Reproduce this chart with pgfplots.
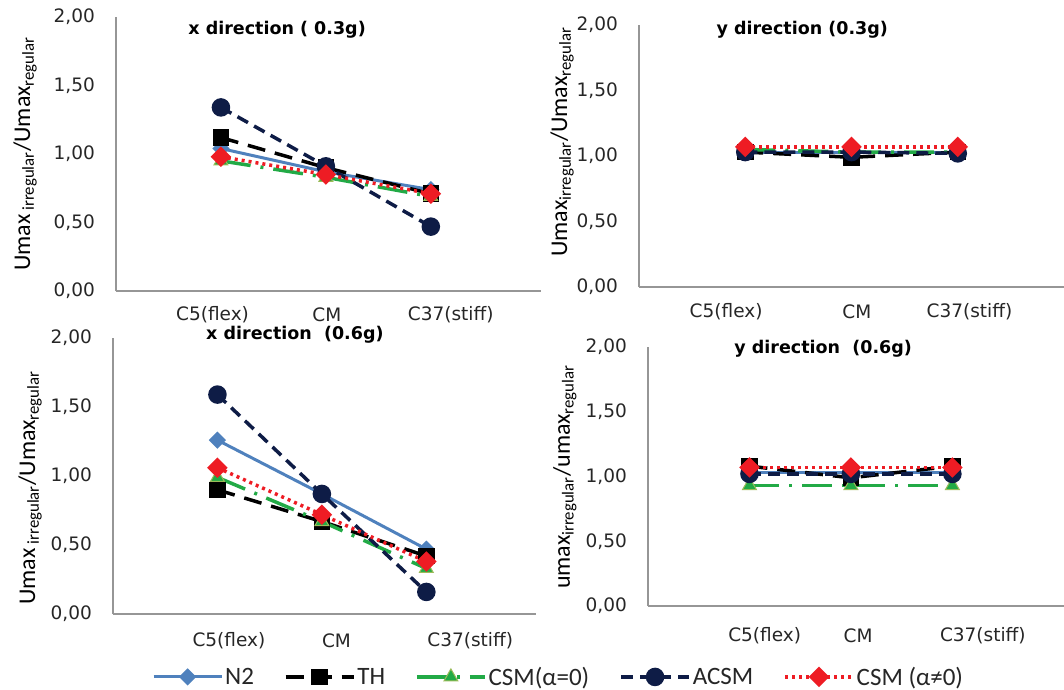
\documentclass[border=0pt]{standalone}
\usepackage{fontspec}
\setmainfont{DejaVu Sans}
\newfontfamily\calib{Carlito}
\usepackage{pgfplots}
\pgfplotsset{compat=1.18}
\definecolor{cN2}{RGB}{79,129,189}
\definecolor{cG}{RGB}{34,170,70}
\definecolor{cGl}{RGB}{155,187,89}
\definecolor{cNavy}{RGB}{14,28,70}
\definecolor{cRed}{RGB}{238,28,36}
\definecolor{axgray}{RGB}{150,150,150}
\pgfplotsset{
  panel/.style={
    scale only axis, anchor=south west, clip=false,
    xmin=0, ymin=0, ymax=2,
    axis x line*=bottom, axis y line*=left,
    axis line style={draw=axgray, line width=1.3bp},
    tick style={draw=none}, major tick length=0pt,
    ytick={0,0.5,1,1.5,2},
    yticklabels={{0,00},{0,50},{1,00},{1,50},{2,00}},
    ticklabel style={font=\fontsize{18.5bp}{21bp}\selectfont, text=black!85},
    yticklabel style={anchor=east, inner sep=0pt, xshift=-21bp},
    title style={font=\fontsize{17.5bp}{20bp}\selectfont\bfseries, anchor=center},
    ylabel style={font=\calib\fontsize{24bp}{26bp}\selectfont, anchor=center},
  },
  n2/.style={color=cN2, line width=3bp, solid, mark=square*, mark size=4.6bp, mark options={rotate=45, solid, fill=cN2}},
  th/.style={color=black, line width=3.5bp, dash pattern=on 18bp off 10bp, mark=square*, mark size=6.5bp, mark options={solid, fill=black}},
  csmz/.style={color=cG, line width=3.5bp, dash pattern=on 30bp off 10bp on 3bp off 10bp, mark=triangle*, mark size=8bp, mark options={solid, fill=cG, draw=cGl, line width=1bp}},
  acsm/.style={color=cNavy, line width=3.5bp, dash pattern=on 12bp off 7bp, mark=*, mark size=7.5bp, mark options={solid, fill=cNavy}},
  csma/.style={color=cRed, line width=3.5bp, dash pattern=on 3bp off 4bp, mark=square*, mark size=5.5bp, mark options={rotate=45, solid, fill=cRed}},
}
\begin{document}
\begin{tikzpicture}
\useasboundingbox (0,0) rectangle (1064bp,-690bp);
% Panel 1: x direction 0.3g
\begin{axis}[panel, at={(116bp,-291bp)}, width=425bp, height=274bp, xmax=4.05,
  xtick={0.92,2.01,3.19}, xticklabels={C5(flex),CM,C37(stiff)},
  xticklabel style={anchor=center, inner sep=0pt, yshift=-24bp},
  title={x direction ( 0.3g)}, title style={at={(axis description cs:0.379,0.931)}},
  ylabel={Umax\,\textsubscript{irregular}/Umax\textsubscript{regular}},
  ylabel style={at={(axis description cs:-0.214,0.5)}}]
\addplot[n2] coordinates {(1,1.04) (2,0.87) (3,0.74)};
\addplot[th] coordinates {(1,1.12) (2,0.90) (3,0.71)};
\addplot[csmz] coordinates {(1,0.95) (2,0.83) (3,0.69)};
\addplot[acsm] coordinates {(1,1.34) (2,0.91) (3,0.47)};
\addplot[csma] coordinates {(1,0.98) (2,0.85) (3,0.71)};
\end{axis}
% Panel 2: y direction 0.3g
\begin{axis}[panel, at={(639bp,-287bp)}, width=425bp, height=262bp, xmax=4.0,
  xtick={0.82,2.05,3.11}, xticklabels={C5(flex),CM,C37(stiff)},
  xticklabel style={anchor=center, inner sep=0pt, yshift=-25bp},
  title={y direction (0.3g)}, title style={at={(axis description cs:0.384,0.958)}},
  ylabel={Umax\textsubscript{irregular}/Umax\textsubscript{regular}},
  ylabel style={at={(axis description cs:-0.181,0.553)}}]
\addplot[n2] coordinates {(1,1.03) (2,1.03) (3,1.03)};
\addplot[th] coordinates {(1,1.03) (2,0.99) (3,1.03)};
\addplot[csmz] coordinates {(1,1.05) (2,1.03) (3,1.03)};
\addplot[acsm] coordinates {(1,1.03) (2,1.03) (3,1.02)};
\addplot[csma] coordinates {(1,1.07) (2,1.07) (3,1.07)};
\end{axis}
% Panel 3: x direction 0.6g
\begin{axis}[panel, at={(113bp,-614bp)}, width=423bp, height=276bp, xmax=4.05,
  xtick={1.11,2.14,3.42}, xticklabels={C5(flex),CM,C37(stiff)},
  xticklabel style={anchor=center, inner sep=0pt, yshift=-27bp},
  title={x direction \ (0.6g)}, title style={at={(axis description cs:0.430,0.989)}},
  ylabel={Umax\,\textsubscript{irregular}/Umax\textsubscript{regular}},
  ylabel style={at={(axis description cs:-0.196,0.457)}},
  legend columns=5,
  legend style={at={(axis description cs:0.092,-0.228)}, anchor=west, draw=none, inner sep=0pt,
    font=\calib\fontsize{25bp}{26bp}\selectfont, text=black!85,
    /tikz/every even column/.append style={column sep=28bp}},
  legend image code/.code={\draw[mark repeat=2,mark phase=2,#1] plot coordinates {(0bp,0bp) (34bp,0bp) (68bp,0bp)};}]
\addplot[n2] coordinates {(1,1.26) (2,0.87) (3,0.47)};
\addplot[th] coordinates {(1,0.90) (2,0.67) (3,0.42)};
\addplot[csmz] coordinates {(1,0.99) (2,0.67) (3,0.33)};
\addplot[acsm] coordinates {(1,1.59) (2,0.87) (3,0.16)};
\addplot[csma] coordinates {(1,1.06) (2,0.72) (3,0.38)};
\legend{N2,TH,CSM(α=0),ACSM,CSM (α≠0)}
\end{axis}
% Panel 4: y direction 0.6g
\begin{axis}[panel, at={(648bp,-606bp)}, width=416bp, height=259bp, xmax=4.1,
  xtick={1.15,2.07,3.30}, xticklabels={C5(flex),CM,C37(stiff)},
  xticklabel style={anchor=center, inner sep=0pt, yshift=-30bp},
  title={y direction \ (0.6g)}, title style={at={(axis description cs:0.421,0.969)}},
  ylabel={umax\textsubscript{irregular}/umax\textsubscript{regular}},
  ylabel style={at={(axis description cs:-0.2,0.498)}}]
\addplot[n2] coordinates {(1,1.03) (2,1.03) (3,1.03)};
\addplot[th] coordinates {(1,1.08) (2,0.99) (3,1.08)};
\addplot[csmz] coordinates {(1,0.93) (2,0.93) (3,0.93)};
\addplot[acsm] coordinates {(1,1.02) (2,1.02) (3,1.02)};
\addplot[csma] coordinates {(1,1.07) (2,1.07) (3,1.07)};
\end{axis}
\end{tikzpicture}
\end{document}
